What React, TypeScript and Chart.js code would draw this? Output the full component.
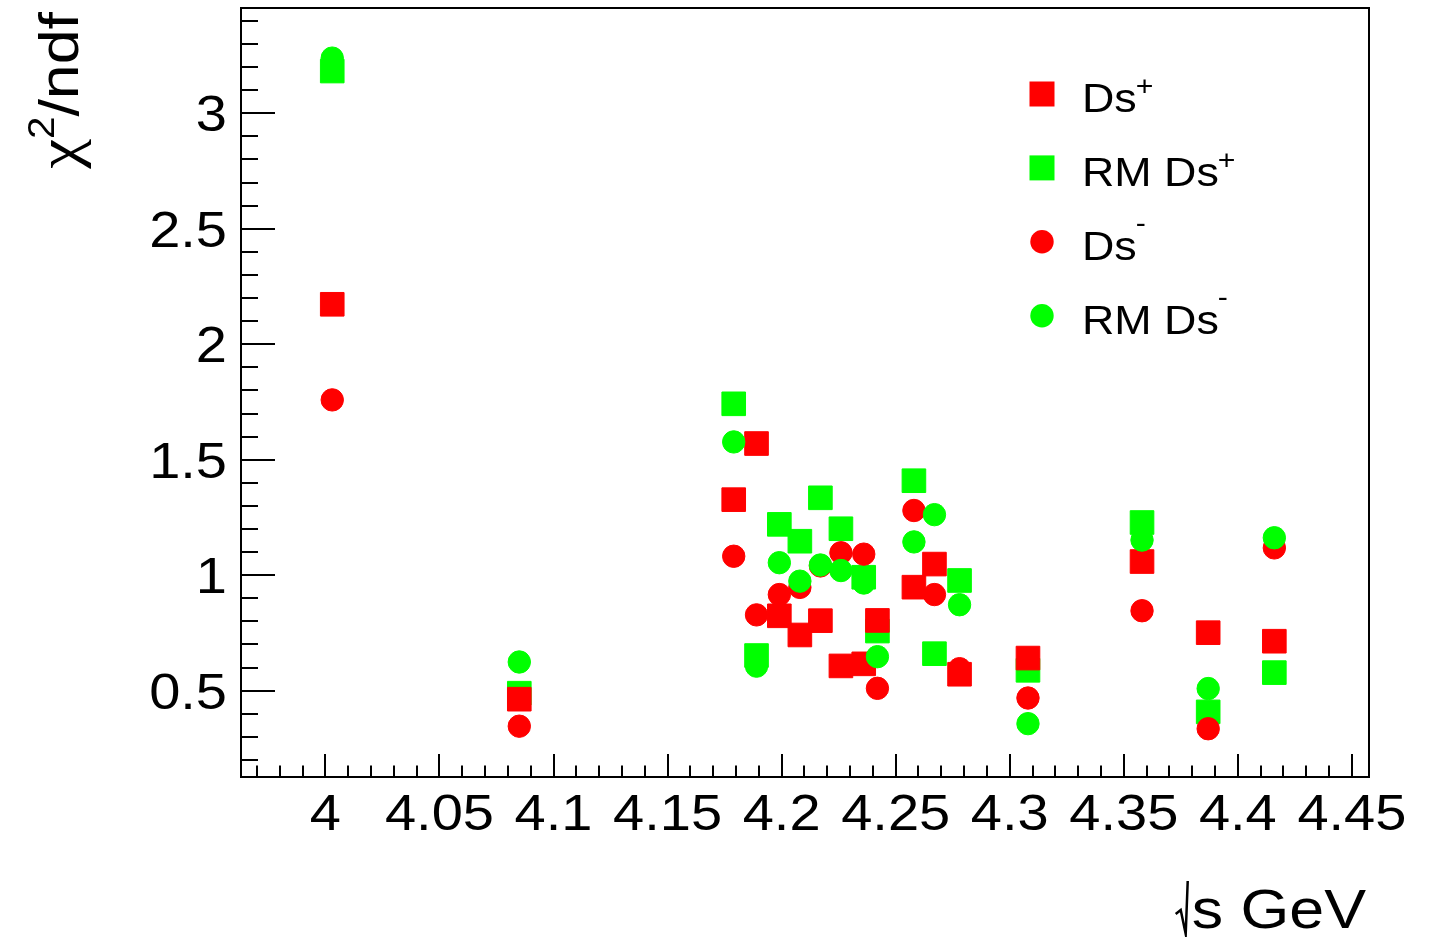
import React, { useEffect, useRef } from 'react';
import { Chart, registerables } from 'chart.js';

Chart.register(...registerables);

// ---- data ----
const energies = [4.003, 4.085, 4.179, 4.189, 4.199, 4.208, 4.217, 4.226, 4.236, 4.242, 4.258, 4.267, 4.278, 4.308, 4.358, 4.387, 4.416];
const dsPlus = [2.173, 0.463, 1.327, 1.570, 0.824, 0.741, 0.803, 0.607, 0.616, 0.804, 0.948, 1.048, 0.571, 0.641, 1.059, 0.751, 0.714];
const rmDsPlus = [3.183, 0.489, 1.742, 0.652, 1.220, 1.147, 1.335, 1.201, 0.991, 0.758, 1.409, 0.660, 0.977, 0.588, 1.228, 0.408, 0.578];
const dsMinus = [1.759, 0.346, 1.082, 0.828, 0.916, 0.947, 1.040, 1.097, 1.091, 0.510, 1.280, 0.916, 0.595, 0.468, 0.846, 0.335, 1.118];
const rmDsMinus = [3.239, 0.624, 1.577, 0.606, 1.054, 0.974, 1.044, 1.020, 0.966, 0.647, 1.144, 1.262, 0.872, 0.357, 1.152, 0.509, 1.162];

const xTickValues = [4, 4.05, 4.1, 4.15, 4.2, 4.25, 4.3, 4.35, 4.4, 4.45];
const yTickValues = [0.5, 1, 1.5, 2, 2.5, 3];
const legendNames = ['Ds', 'RM Ds', 'Ds', 'RM Ds'];
const legendSups = ['+', '+', '-', '-'];
const xTitle = 'GeV';
const yTitleBase = 'χ';
const yTitleSup = '2';
const yTitleRest = '/ndf';

const X_MIN = 3.963;
const X_MAX = 4.4575;
const Y_MIN = 0.126;
const Y_MAX = 3.456;

const FONT = "'Liberation Sans', Arial, Helvetica, sans-serif";
const SYMBOL_FONT = "'Liberation Serif', 'DejaVu Serif', serif";
const RED = '#ff0000';
const GREEN = '#00ff00';
const SX = 1.12; // horizontal widening of the ROOT text

const toPoints = (ys: number[]) => ys.map((v, i) => ({ x: energies[i], y: v }));

function drawText(ctx: CanvasRenderingContext2D, text: string, x: number, y: number, size: number, align: CanvasTextAlign, family: string = FONT) {
  ctx.save();
  ctx.translate(x, y);
  ctx.scale(SX, 1);
  ctx.font = `${size}px ${family}`;
  ctx.textAlign = align;
  ctx.textBaseline = 'alphabetic';
  ctx.fillText(text, 0, 0);
  ctx.restore();
}

function textW(ctx: CanvasRenderingContext2D, text: string, size: number, family: string = FONT) {
  ctx.save();
  ctx.font = `${size}px ${family}`;
  const w = ctx.measureText(text).width * SX;
  ctx.restore();
  return w;
}

const frameTicksPlugin = {
  id: 'frameTicks',
  beforeDatasetsDraw(chart: any) {
    const { ctx, chartArea, scales } = chart;
    const { left, right, top, bottom } = chartArea;
    const xs = scales.x;
    const ys = scales.y;
    ctx.save();
    ctx.strokeStyle = '#000';
    ctx.lineWidth = 2;
    ctx.strokeRect(left, top, right - left, bottom - top);
    ctx.beginPath();
    const xStep = 0.01;
    for (let i = Math.ceil(xs.min / xStep - 1e-6); i * xStep <= xs.max + 1e-9; i++) {
      const v = i * xStep;
      const px = Math.round(xs.getPixelForValue(v));
      const major = Math.abs(v / 0.05 - Math.round(v / 0.05)) < 1e-6;
      const len = major ? 23 : 11.5;
      ctx.moveTo(px, bottom);
      ctx.lineTo(px, bottom - len);
    }
    const yStep = 0.1;
    for (let i = Math.ceil(ys.min / yStep - 1e-6); i * yStep <= ys.max + 1e-9; i++) {
      const v = i * yStep;
      const py = Math.round(ys.getPixelForValue(v));
      const major = Math.abs(v / 0.5 - Math.round(v / 0.5)) < 1e-6;
      const len = major ? 34 : 17;
      ctx.moveTo(left, py);
      ctx.lineTo(left + len, py);
    }
    ctx.stroke();
    ctx.fillStyle = '#000';
    const LBL = 50;
    xs.ticks.forEach((t: any) => {
      const px = xs.getPixelForValue(t.value);
      drawText(ctx, String(t.value), px, 830, LBL, 'center');
    });
    ys.ticks.forEach((t: any) => {
      const py = ys.getPixelForValue(t.value);
      drawText(ctx, String(t.value), 227, py + 18, LBL, 'right');
    });
    ctx.restore();
  },
};

const legendPlugin = {
  id: 'rootLegend',
  afterDatasetsDraw(chart: any) {
    const { ctx } = chart;
    const styles = [
      { color: RED, shape: 'rect' },
      { color: GREEN, shape: 'rect' },
      { color: RED, shape: 'circle' },
      { color: GREEN, shape: 'circle' },
    ];
    ctx.save();
    const mx = 1042;
    const tx = 1082;
    const y0 = 94;
    const dy = 73.9;
    legendNames.forEach((name, i) => {
      const cy = y0 + i * dy;
      const st = styles[i];
      ctx.fillStyle = st.color;
      if (st.shape === 'rect') {
        ctx.fillRect(mx - 12.5, cy - 12.5, 25, 25);
      } else {
        ctx.beginPath();
        ctx.arc(mx, cy, 11.7, 0, Math.PI * 2);
        ctx.fill();
      }
      ctx.fillStyle = '#000';
      const base = cy + 18;
      drawText(ctx, name, tx, base, 40, 'left');
      const w = textW(ctx, name, 40);
      const sup = legendSups[i];
      const raise = sup === '+' ? 17 : 28;
      drawText(ctx, sup, tx + w - 1, base - raise, 27, 'left');
    });
    ctx.restore();
  },
};

const titlesPlugin = {
  id: 'axisTitles',
  afterDraw(chart: any) {
    const { ctx } = chart;
    ctx.save();
    ctx.fillStyle = '#000';
    ctx.strokeStyle = '#000';
    const TS = 56;
    // x title: sqrt(s) GeV, right aligned
    const baseY = 928;
    const rightX = 1366;
    const gevW = textW(ctx, ' ' + xTitle, TS);
    drawText(ctx, ' ' + xTitle, rightX, baseY, TS, 'right');
    const sW = textW(ctx, 's', TS);
    const sRight = rightX - gevW;
    drawText(ctx, 's', sRight, baseY, TS, 'right');
    const sLeft = sRight - sW;
    ctx.lineWidth = 2.5;
    ctx.beginPath();
    ctx.moveTo(sLeft - 16, baseY - 14);
    ctx.lineTo(sLeft - 11, baseY - 18);
    ctx.lineTo(sLeft - 6, baseY + 6);
    ctx.lineTo(sLeft - 4, baseY - 47);
    ctx.stroke();

    // y title rotated, right aligned at the top
    ctx.translate(78, 12);
    ctx.rotate(-Math.PI / 2);
    const restW = textW(ctx, yTitleRest, TS);
    const supW = textW(ctx, yTitleSup, 36);
    const chiW = textW(ctx, yTitleBase, 60, SYMBOL_FONT);
    const total = chiW + supW + restW;
    let cx = -total;
    drawText(ctx, yTitleBase, cx, 0, 60, 'left', SYMBOL_FONT);
    cx += chiW;
    drawText(ctx, yTitleSup, cx, -24, 36, 'left');
    cx += supW;
    drawText(ctx, yTitleRest, cx, 0, TS, 'left');
    ctx.restore();
  },
};

export default function App() {
  const canvasRef = useRef<HTMLCanvasElement | null>(null);

  useEffect(() => {
    const canvas = canvasRef.current;
    if (!canvas) return;
    const chart = new Chart(canvas, {
      type: 'scatter',
      data: {
        datasets: [
          {
            label: 'Ds+',
            data: toPoints(dsPlus),
            pointStyle: 'rect',
            pointRadius: 16.7,
            backgroundColor: RED,
            borderColor: RED,
            borderWidth: 1,
            order: 3,
          },
          {
            label: 'RM Ds+',
            data: toPoints(rmDsPlus),
            pointStyle: 'rect',
            pointRadius: 16.7,
            backgroundColor: GREEN,
            borderColor: GREEN,
            borderWidth: 1,
            order: 4,
          },
          {
            label: 'Ds-',
            data: toPoints(dsMinus),
            pointStyle: 'circle',
            pointRadius: 11.2,
            backgroundColor: RED,
            borderColor: RED,
            borderWidth: 1,
            order: 2,
          },
          {
            label: 'RM Ds-',
            data: toPoints(rmDsMinus),
            pointStyle: 'circle',
            pointRadius: 11.2,
            backgroundColor: GREEN,
            borderColor: GREEN,
            borderWidth: 1,
            order: 1,
          },
        ],
      },
      options: {
        responsive: false,
        animation: false,
        events: [],
        layout: { autoPadding: false, padding: { left: 0, right: 63, top: 8, bottom: 0 } },
        plugins: {
          legend: { display: false },
          tooltip: { enabled: false },
          title: { display: false },
        },
        scales: {
          x: {
            type: 'linear',
            min: X_MIN,
            max: X_MAX,
            afterFit(scale: any) {
              scale.height = 160;
              scale.paddingLeft = 0;
              scale.paddingRight = 0;
            },
            afterBuildTicks(scale: any) {
              scale.ticks = xTickValues.map((v) => ({ value: v }));
            },
            ticks: { display: false },
            grid: { display: false, drawTicks: false },
            border: { display: false },
          },
          y: {
            type: 'linear',
            min: Y_MIN,
            max: Y_MAX,
            afterFit(scale: any) {
              scale.width = 241;
              scale.paddingTop = 0;
              scale.paddingBottom = 0;
            },
            afterBuildTicks(scale: any) {
              scale.ticks = yTickValues.map((v) => ({ value: v }));
            },
            ticks: { display: false },
            grid: { display: false, drawTicks: false },
            border: { display: false },
          },
        },
      },
      plugins: [frameTicksPlugin, legendPlugin, titlesPlugin],
    });
    return () => chart.destroy();
  }, []);

  return (
    <div style={{ position: 'fixed', left: 0, top: 0, width: 1432, height: 937, background: '#fff' }}>
      <canvas ref={canvasRef} width={1432} height={937} style={{ display: 'block' }} />
    </div>
  );
}
